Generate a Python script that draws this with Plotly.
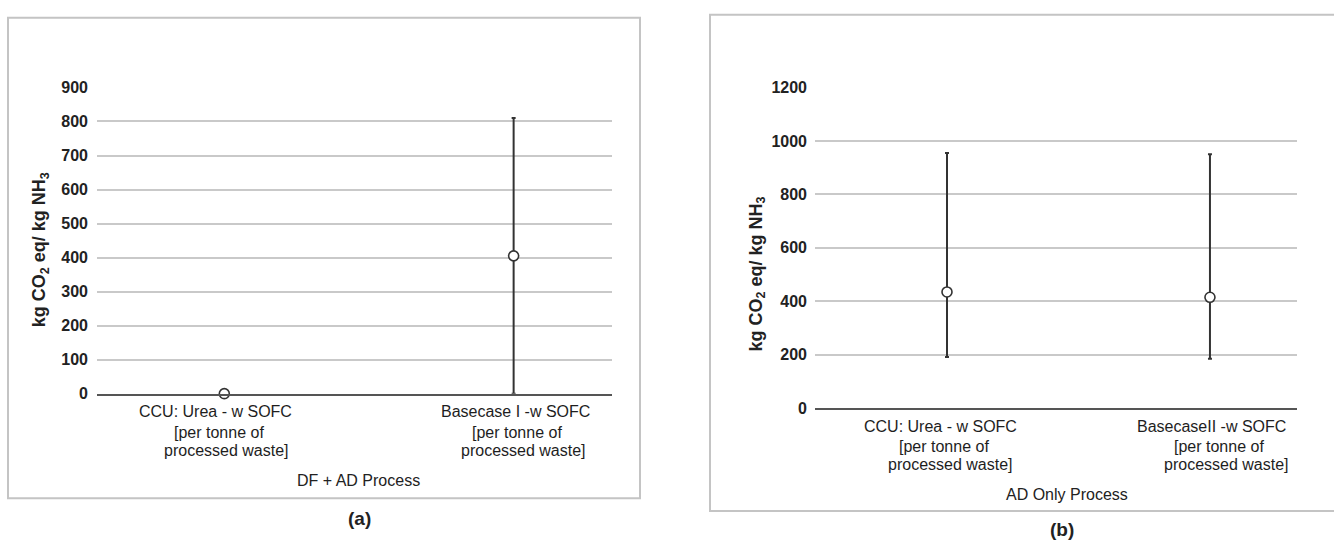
import plotly.graph_objects as go

# ---- data -------------------------------------------------------------
cats_a = ["CCU: Urea - w SOFC", "Basecase I -w SOFC"]
mean_a = [0, 405]
low_a = [0, 0]
high_a = [0, 810]

cats_b = ["CCU: Urea - w SOFC", "BasecaseII -w SOFC"]
mean_b = [435, 415]
low_b = [192, 185]
high_b = [955, 950]

sub_lines = ["[per tonne of", "processed waste]"]
yticks_a = list(range(0, 1000, 100))
yticks_b = list(range(0, 1400, 200))

# ---- layout helpers -----------------------------------------------------
W, H = 1334, 549
FONT = "Liberation Sans, Arial, sans-serif"
GRID = "#c9c9c9"
INK = "#333333"


def fx(p):
    return p / W


def fy(p):
    return 1 - p / H


fig = go.Figure()

for cats, mean, low, high, xa, ya in [
    (cats_a, mean_a, low_a, high_a, "x", "y"),
    (cats_b, mean_b, low_b, high_b, "x2", "y2"),
]:
    up = [h - m for h, m in zip(high, mean)]
    dn = [m - l for m, l in zip(mean, low)]
    fig.add_trace(go.Scatter(
        x=cats, y=mean, xaxis=xa, yaxis=ya, mode="markers",
        marker=dict(size=10, color="white", line=dict(color=INK, width=1.6)),
        error_y=dict(type="data", symmetric=False, array=up, arrayminus=dn,
                     color=INK, thickness=2, width=2),
        cliponaxis=False, showlegend=False, hoverinfo="skip",
    ))

tickfont = dict(family=FONT, size=16, color="#222222", weight="bold")

fig.update_layout(
    width=W, height=H, margin=dict(l=0, r=0, t=0, b=0),
    paper_bgcolor="white", plot_bgcolor="white",
    xaxis=dict(domain=[fx(97), fx(612)], anchor="y", range=[-0.44, 1.34],
               showticklabels=False, showgrid=False, zeroline=False,
               showline=True, linecolor="#555555", linewidth=2),
    yaxis=dict(domain=[fy(398), fy(82)], anchor="x", range=[0, 900],
               tickvals=yticks_a, ticktext=[str(v) for v in yticks_a],
               tickfont=tickfont, showgrid=True, gridcolor=GRID, gridwidth=1.6,
               zeroline=False, showline=False, ticks="", ticklabelstandoff=8),
    xaxis2=dict(domain=[fx(815), fx(1297)], anchor="y2", range=[-0.502, 1.331],
                showticklabels=False, showgrid=False, zeroline=False,
                showline=True, linecolor="#555555", linewidth=2),
    yaxis2=dict(domain=[fy(413), fy(82)], anchor="x2", range=[0, 1200],
                tickvals=yticks_b, ticktext=[str(v) for v in yticks_b],
                tickfont=tickfont, showgrid=True, gridcolor=GRID, gridwidth=1.6,
                zeroline=False, showline=False, ticks="", ticklabelstandoff=7),
)

# panel frames
fig.add_shape(type="rect", xref="paper", yref="paper",
              x0=fx(8), x1=fx(640), y0=fy(506), y1=fy(10),
              line=dict(color="#c4c4c4", width=2), layer="below")
fig.add_shape(type="rect", xref="paper", yref="paper",
              x0=fx(710), x1=fx(1345), y0=fy(519), y1=fy(7),
              line=dict(color="#c4c4c4", width=2), layer="below")

annots = []
lab_font = dict(family=FONT, size=16, color="#1e1e1e")

# category labels (three lines under each category)
for xa, cats, ys, shifts in [
    ("x", cats_a, [416, 438, 457], [[-9, -5, 2], [2, 3, 10]]),
    ("x2", cats_b, [432, 452, 471], [[-7, -3, 3], [2, 9, 17]]),
]:
    for c, sh in zip(cats, shifts):
        for txt, yy, s in zip([c] + sub_lines, ys, sh):
            annots.append(dict(xref=xa, yref="paper", x=c, y=fy(yy), text=txt,
                               showarrow=False, xanchor="center", yanchor="middle",
                               xshift=s, font=lab_font))

# axis titles
ytitle = "kg CO<sub>2</sub> eq/ kg NH<sub>3</sub>"
for xx, yy in [(40, 250), (757, 275)]:
    annots.append(dict(xref="paper", yref="paper", x=fx(xx), y=fy(yy), text=ytitle,
                       textangle=-90, showarrow=False, xanchor="center", yanchor="middle",
                       font=dict(family=FONT, size=18, color="#222222", weight="bold")))

# process titles and panel tags
for txt, xx, yy, sz, wt in [
    ("DF + AD Process", 358, 488, 16, "normal"),
    ("AD Only Process", 1067, 502, 16, "normal"),
    ("(a)", 359, 527, 19, "bold"),
    ("(b)", 1062, 538, 19, "bold"),
]:
    annots.append(dict(xref="paper", yref="paper", x=fx(xx), y=fy(yy), text=txt,
                       showarrow=False, xanchor="center", yanchor="middle",
                       font=dict(family=FONT, size=sz, color="#222222", weight=wt)))

fig.update_layout(annotations=annots)

fig.write_html("out.html")
